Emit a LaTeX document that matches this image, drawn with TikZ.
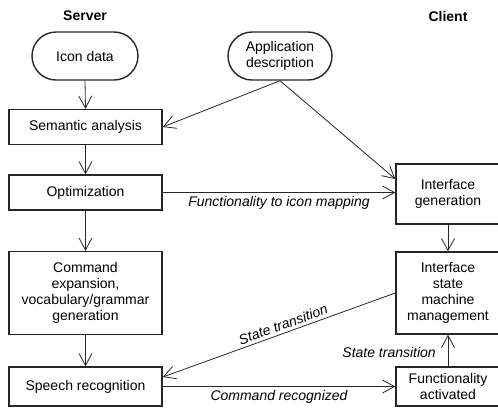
\documentclass[tikz,border=0pt]{standalone}
\usepackage{fontspec}
\setmainfont{Liberation Sans}
\usetikzlibrary{arrows.meta,positioning,calc}
\begin{document}
\begin{tikzpicture}[x=1pt,y=-1pt,
  font=\fontsize{14}{16}\selectfont,
  box/.style={draw=black!85,line width=1.4pt,align=center,inner sep=0pt},
  term/.style={box,rounded corners=24pt},
  arr/.style={draw=black!85,line width=0.8pt,-{Straight Barb[length=12pt,width=13pt,line width=0.8pt]}},
  lbl/.style={font=\fontsize{14}{16}\selectfont\itshape,inner sep=1pt}]
\useasboundingbox (0,0) rectangle (498,408);
\node[font=\fontsize{14}{16}\selectfont\bfseries] (server) at (85,16) {Server};
\node[font=\fontsize{14}{16}\selectfont\bfseries] (client) at (448,16) {Client};
\node[term,minimum width=106pt,minimum height=48pt] (icon) at (85,56) {Icon data};
\node[term,minimum width=104pt,minimum height=48pt] (app) at (280,56) {Application\\description};
\node[box,minimum width=153pt,minimum height=35pt] (sem) at (85.5,127) {Semantic analysis};
\node[box,minimum width=153pt,minimum height=35pt] (opt) at (85.5,192.5) {Optimization};
\node[box,minimum width=153pt,minimum height=83pt] (cmd) at (85.5,293) {Command\\expansion,\\vocabulary/grammar\\generation};
\node[box,minimum width=153pt,minimum height=39pt] (speech) at (85.5,386.5) {Speech recognition};
\node[box,minimum width=104pt,minimum height=60pt] (ig) at (448,194) {Interface\\generation};
\node[box,minimum width=104pt,minimum height=82pt] (ism) at (448,293) {Interface\\state\\machine\\management};
\node[box,minimum width=104pt,minimum height=39pt] (fa) at (448,386.5) {Functionality\\activated};

\draw[arr] (icon.south) -- (sem.north);
\draw[arr] (app.south) -- (sem.east);
\draw[arr] (app.south) -- ([yshift=15pt]ig.west);
\draw[arr] (sem.south) -- (opt.north);
\draw[arr] (opt.east) -- (opt.east -| ig.west)
  node[lbl,midway,below=2pt] (l1) {Functionality to icon mapping};
\draw[arr] (opt.south) -- (cmd.north);
\draw[arr] (cmd.south) -- (speech.north);
\draw[arr] (ig.south) -- (ism.north);
\draw[arr] (ism.west) -- ([yshift=9.5pt]speech.east)
  node[lbl,pos=0.47,sloped,above=2pt] (l2) {State transition};
\draw[arr] (speech.east) -- (fa.west)
  node[lbl,midway,below=2pt] (l3) {Command recognized};
\draw[arr] (fa.north) -- (ism.south);
\node[lbl,anchor=east] (l4) at (437,352) {State transition};
\end{tikzpicture}
\end{document}
